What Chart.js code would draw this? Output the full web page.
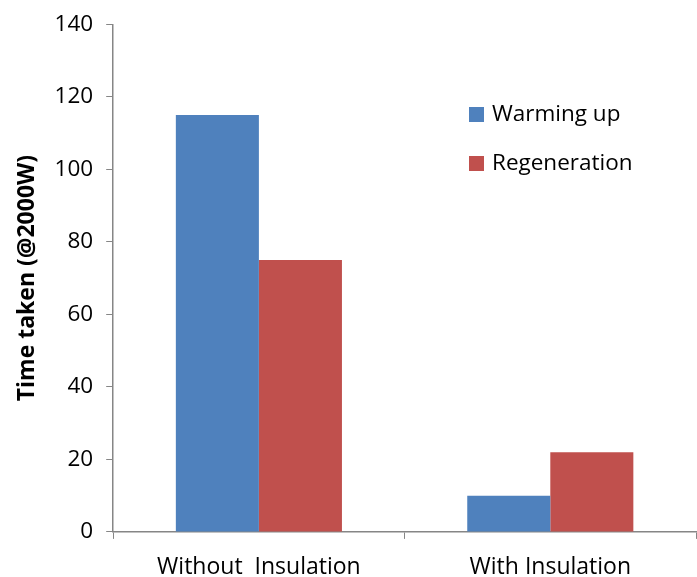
<!DOCTYPE html>
<html><head><meta charset="utf-8">
<script src="https://cdn.jsdelivr.net/npm/chart.js@4"></script>
<style>html,body{margin:0;padding:0;background:#fff}#wrap{width:697px;height:577px}</style>
</head><body><div id="wrap"><canvas id="c" width="697" height="577"></canvas></div>
<script>
const categories = ["Without  Insulation", "With Insulation"];
const warmingUp = [115, 10];
const regeneration = [75, 22];
const seriesNames = ["Warming up", "Regeneration"];
const yTicks = [0, 20, 40, 60, 80, 100, 120, 140];
const yTitle = "Time taken (@2000W)";

const FONT = "'Open Sans', 'Liberation Sans', sans-serif";
const axisColor = "#868686";

const legendPlugin = {
  id: 'customLegend',
  afterDraw(chart) {
    const ctx = chart.ctx;
    ctx.save();
    ctx.font = "22.5px " + FONT;
    ctx.textBaseline = "middle";
    const ys = [114, 163];
    chart.data.datasets.forEach((ds, i) => {
      ctx.fillStyle = ds.backgroundColor;
      ctx.fillRect(469, ys[i] - 7, 15, 15);
      ctx.fillStyle = "#000";
      ctx.fillText(ds.label, 492, ys[i] + 1);
    });
    ctx.restore();
  }
};

new Chart(document.getElementById('c'), {
  type: 'bar',
  data: {
    labels: categories,
    datasets: [
      { label: seriesNames[0], data: warmingUp, backgroundColor: "#4F81BD" },
      { label: seriesNames[1], data: regeneration, backgroundColor: "#C0504D" }
    ]
  },
  options: {
    responsive: false,
    animation: false,
    devicePixelRatio: 1,
    layout: { padding: { top: 10, right: 1, left: 14, bottom: -19.5 } },
    datasets: { bar: { barPercentage: 1.0, categoryPercentage: 0.57 } },
    plugins: { legend: { display: false }, tooltip: { enabled: false } },
    scales: {
      x: {
        grid: { display: true, drawOnChartArea: false, drawTicks: true, tickLength: 7, color: axisColor, offset: true },
        border: { color: axisColor, width: 1.5 },
        ticks: { color: "#000", font: { family: FONT, size: 23 }, padding: 15 }
      },
      y: {
        min: 0, max: 140,
        afterBuildTicks(axis) { axis.ticks = yTicks.map(v => ({ value: v })); },
        grid: { display: true, drawOnChartArea: false, drawTicks: true, tickLength: 7, color: axisColor },
        border: { color: axisColor, width: 1.5 },
        ticks: { color: "#000", font: { family: FONT, size: 22.5, lineHeight: 1.0 }, padding: 13 },
        title: { display: true, text: yTitle, color: "#000", font: { family: FONT, size: 23, weight: 'bold' }, padding: { top: 0, bottom: 0 } }
      }
    }
  },
  plugins: [legendPlugin]
});
</script></body></html>
